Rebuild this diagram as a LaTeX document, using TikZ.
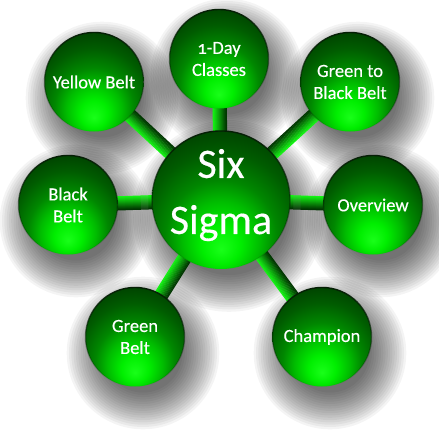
\documentclass[tikz,border=0pt]{standalone}
\usepackage{fontspec}
\setmainfont{Carlito}[Numbers=OldStyle, FakeBold=0.35]
\usetikzlibrary{calc,fadings}
\definecolor{g0}{RGB}{25,255,25}
\definecolor{g1}{RGB}{0,238,0}
\definecolor{g2}{RGB}{0,188,0}
\definecolor{g3}{RGB}{0,135,0}
\definecolor{g4}{RGB}{0,92,0}
\definecolor{g5}{RGB}{0,62,0}
\definecolor{g6}{RGB}{0,35,0}
\definecolor{rimcol}{RGB}{5,30,5}
\definecolor{tubebright}{RGB}{20,245,20}
\definecolor{tubedark}{RGB}{0,45,0}
\pgfdeclareradialshading{glossgreen}{\pgfpoint{0bp}{-18bp}}{color(0bp)=(g0); color(7bp)=(g1); color(14bp)=(g2); color(20bp)=(g3); color(28bp)=(g4); color(36bp)=(g5); color(43bp)=(g6); color(70bp)=(g6)}
\pgfdeclarelayer{bglayer}
\pgfdeclarelayer{shadowlayer}
\pgfdeclarelayer{tubelayer}
\pgfsetlayers{bglayer,shadowlayer,tubelayer,main}
\tikzset{
  ball/.style={circle, inner sep=0pt, minimum size=99pt, shade, shading=glossgreen,
    text=white, align=center, font=\fontsize{18.5}{22}\selectfont,
    postaction={draw=rimcol, line width=1.4pt, path fading=south}},
  hub/.style={ball, minimum size=138pt, font=\fontsize{42}{48}\selectfont},
  softshade/.style={fill=black, opacity=0.042}
}
\newcommand\gtube[3]{%
  \foreach \i in {0,...,13}{%
    \pgfmathsetmacro\off{#3*(6.5-\i)}%
    \pgfmathtruncatemacro\mix{100-\i*7.3}%
    \draw[line width=1.25pt, color=tubebright!\mix!tubedark]
      ($(#1)!\off pt!90:(#2)$) -- ($(#2)!\off pt!-90:(#1)$);
  }%
}
\newcommand\gshadow[2]{%
  \foreach \k in {0,...,16}{%
    \pgfmathsetmacro\rr{#2-10+2.3*\k}%
    \fill[softshade] ($(#1.center)+(8,16)$) circle[radius=\rr pt];
  }%
}
\begin{document}
\begin{tikzpicture}[x=1pt,y=-1pt]
\begin{pgfonlayer}{bglayer}
\fill[white] (0,0) rectangle (439,439);
\end{pgfonlayer}
\useasboundingbox (0,0) rectangle (439,439);
\node[hub] (six) at (221,200) {Six\\[8pt]\makebox[80pt]{Sigma}\rule[-17pt]{0pt}{0pt}};
\node[ball] (day) at (219,59) {1-Day\\Classes};
\node[ball] (yel) at (94,82) {Yellow Belt};
\node[ball] (g2b) at (350,82) {Green to\\Black Belt};
\node[ball] (blk) at (68,205) {Black\\Belt};
\node[ball] (ovw) at (373,205) {Overview};
\node[ball] (grn) at (135,337) {Green\\Belt};
\node[ball] (chp) at (322,337) {Champion};
\begin{pgfonlayer}{shadowlayer}
  \gshadow{six}{69}
  \foreach \n in {day,yel,g2b,blk,ovw,grn,chp}{
    \gshadow{\n}{49.5}
  }
\end{pgfonlayer}
\begin{pgfonlayer}{tubelayer}
  \gtube{six}{day}{1}
  \gtube{six}{yel}{1}
  \gtube{six}{g2b}{-1}
  \gtube{six}{blk}{-1}
  \gtube{six}{ovw}{1}
  \gtube{six}{grn}{-1}
  \gtube{six}{chp}{-1}
\end{pgfonlayer}
\end{tikzpicture}
\end{document}
